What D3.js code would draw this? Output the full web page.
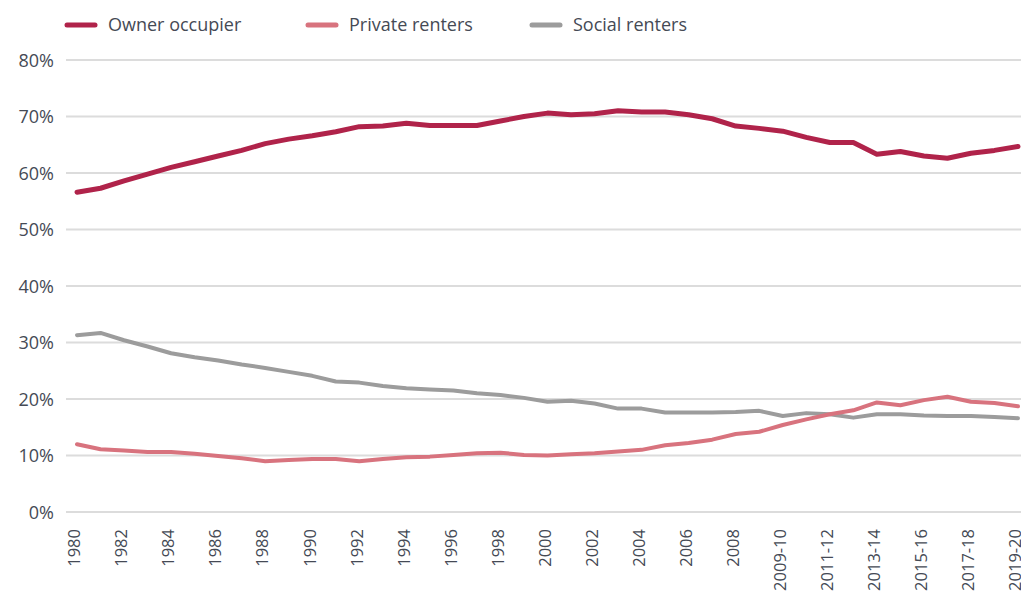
<!DOCTYPE html>
<html>
<head>
<meta charset="utf-8">
<script src="https://cdn.jsdelivr.net/npm/d3@7"></script>
<style>
  body { margin: 0; background: #fff; }
  text { font-family: "Open Sans", sans-serif; fill: #454a55; }
</style>
</head>
<body>
<div id="chart"></div>
<script>
// survey years (single years until 2008, then financial years)
var years = ["1980","1981","1982","1983","1984","1985","1986","1987","1988","1989",
  "1990","1991","1992","1993","1994","1995","1996","1997","1998","1999",
  "2000","2001","2002","2003","2004","2005","2006","2007","2008","2008-09",
  "2009-10","2010-11","2011-12","2012-13","2013-14","2014-15","2015-16","2016-17","2017-18","2018-19","2019-20"];

// tenure shares, %
var ownerOccupier = [56.6,57.3,58.6,59.8,61.0,62.0,63.0,64.0,65.2,66.0,
  66.6,67.3,68.2,68.3,68.8,68.4,68.4,68.4,69.2,70.0,
  70.6,70.3,70.5,71.0,70.8,70.8,70.3,69.6,68.3,67.9,
  67.4,66.3,65.4,65.4,63.3,63.8,63.0,62.6,63.5,64.0,64.7];
var privateRenters = [12.0,11.1,10.9,10.6,10.6,10.3,9.9,9.5,9.0,9.2,
  9.4,9.4,9.0,9.4,9.7,9.8,10.1,10.4,10.5,10.1,
  10.0,10.2,10.4,10.7,11.0,11.8,12.2,12.8,13.8,14.2,
  15.4,16.4,17.3,18.0,19.4,18.9,19.8,20.4,19.5,19.3,18.7];
var socialRenters = [31.3,31.7,30.4,29.3,28.1,27.4,26.8,26.1,25.5,24.8,
  24.1,23.1,22.9,22.3,21.9,21.7,21.5,21.0,20.7,20.2,
  19.5,19.7,19.2,18.3,18.3,17.6,17.6,17.6,17.7,17.9,
  17.0,17.5,17.3,16.7,17.3,17.3,17.1,17.0,17.0,16.8,16.6];

var seriesNames = ["Owner occupier", "Private renters", "Social renters"];
var yTicks = [0, 10, 20, 30, 40, 50, 60, 70, 80];
//x axis labels (every second survey year)
var xLabels = ["1980","1982","1984","1986","1988","1990","1992","1994","1996","1998",
  "2000","2002","2004","2006","2008","2009-10","2011-12","2013-14","2015-16","2017-18","2019-20"];

var width = 1021, height = 601;
var colors = ["#b0234a", "#d8737e", "#9c9c9c"];
var lineWidths = [5, 4, 4];

var svg = d3.select("#chart").append("svg")
    .attr("width", width)
    .attr("height", height);

var x = d3.scalePoint()
    .domain(years)
    .range([77, 1018]);

var y = d3.scaleLinear()
    .domain([0, 80])
    .range([512, 60]);

//gridlines
svg.append("g").selectAll("line")
    .data(yTicks)
  .enter().append("line")
    .attr("x1", 66)
    .attr("x2", width)
    .attr("y1", function(d) { return y(d); })
    .attr("y2", function(d) { return y(d); })
    .attr("stroke", "#dcdcdc")
    .attr("stroke-width", 2);

//y axis labels
var yAxis = svg.append("g")
    .attr("transform", "translate(54,0)")
    .call(d3.axisLeft(y).tickValues(yTicks).tickSize(0).tickFormat(function(d) { return d + "%"; }));
yAxis.select(".domain").remove();
yAxis.selectAll("text")
    .attr("x", 0)
    .attr("dy", "0.35em")
    .style("font-size", "18px")
    .style("font-family", "'Open Sans', sans-serif")
    .attr("fill", "#454a55");

var xAxis = svg.append("g")
    .attr("transform", "translate(-3,523)")
    .call(d3.axisBottom(x).tickValues(xLabels).tickSize(0));
xAxis.select(".domain").remove();
xAxis.selectAll("text")
    .attr("transform", "rotate(-90)")
    .attr("x", -6)
    .attr("y", 0)
    .attr("dy", "0.35em")
    .style("text-anchor", "end")
    .style("font-size", "16.5px")
    .style("font-family", "'Open Sans', sans-serif")
    .attr("fill", "#454a55");

//lines
var allSeries = [ownerOccupier, privateRenters, socialRenters];
var line = d3.line()
    .x(function(d, i) { return x(years[i]); })
    .y(function(d) { return y(d); });

svg.append("g").selectAll("path")
    .data([2, 1, 0])
  .enter().append("path")
    .attr("d", function(k) { return line(allSeries[k]); })
    .attr("fill", "none")
    .attr("stroke", function(k) { return colors[k]; })
    .attr("stroke-width", function(k) { return lineWidths[k]; })
    .attr("stroke-linejoin", "round")
    .attr("stroke-linecap", "round");

//legend
var legendX = [66, 307, 531];
var legend = svg.append("g").selectAll("g")
    .data(seriesNames)
  .enter().append("g")
    .attr("transform", function(d, i) { return "translate(" + legendX[i] + ",25)"; });

legend.append("line")
    .attr("x1", 1)
    .attr("x2", 29)
    .attr("stroke", function(d, i) { return colors[i]; })
    .attr("stroke-width", 5)
    .attr("stroke-linecap", "round");

legend.append("text")
    .attr("x", 42)
    .attr("dy", "0.35em")
    .style("font-size", "18px")
    .text(function(d) { return d; });
</script>
</body>
</html>
